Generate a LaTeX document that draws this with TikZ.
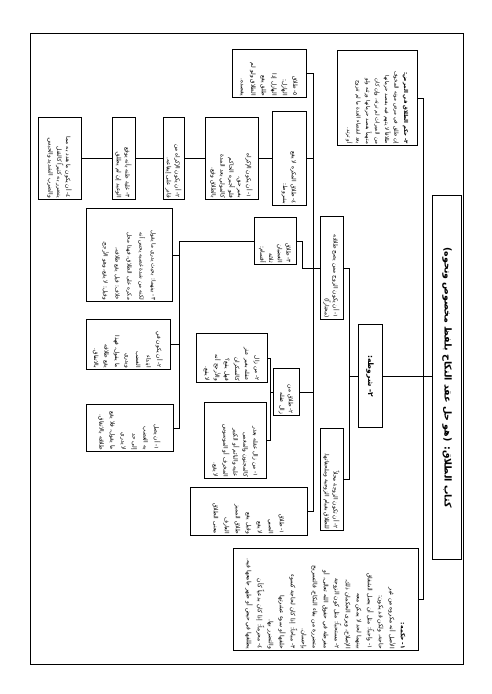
\documentclass[tikz,border=0pt]{standalone}
\usepackage{fontspec}
\newfontfamily\arabicfont[Script=Arabic]{DejaVu Sans}
\TeXXeTstate=1
\newcommand{\ar}[1]{\beginR #1\endR}
\tikzset{
  box/.style={draw,line width=0.9pt,rotate=-90,inner sep=1.5pt,align=right,
    font=\arabicfont\fontsize{5.8}{8.8}\selectfont},
  sz/.style 2 args={text width=#1pt,minimum height=#2pt},
  link/.style={line width=0.9pt}}

\begin{document}
\begin{tikzpicture}[x=1pt,y=-1pt]
\useasboundingbox (0,0) rectangle (491,694);
\draw[line width=1pt] (30,33) rectangle (463,664);

% bus lines
\coordinate (b1) at (423,0);
\coordinate (b2) at (349,0);
\coordinate (b3) at (313,0);
\coordinate (jog) at (302,0);
\coordinate (b4) at (179,0);
\coordinate (b5) at (270,0);

\node[box,sz={361}{29},align=center,font=\arabicfont\bfseries\fontsize{9.5}{11}\selectfont] (title) at (447,377.5)
  {\ar{كتاب الطلاق: (هو حل عقد النكاح بلفظ مخصوص ونحوه)}};

\node[box,sz={92}{80},font=\arabicfont\fontsize{5.4}{9.5}\selectfont] (hukm3) at (377,98)
  {\textbf{\ar{٣- حكم الطلاق في المرض:}}\\
   \ar{إن طلق في مرض موته المخوف}\\
   \ar{طلاقاً لا يتهم فيه بقصد حرمانها}\\
   \ar{من الميراث لم ترثه، وإن كان}\\
   \ar{متهماً بقصد حرمانها ورثته ولو}\\
   \ar{بعد انقضاء العدة ما لم تتزوج}\\
   \ar{أو ترتد.}};
\node[box,sz={100}{24},align=center,font=\arabicfont\bfseries\fontsize{7.5}{9}\selectfont] (shurut) at (370,376)
  {\ar{٢- شروطه:}};
\node[box,sz={99}{185},font=\arabicfont\fontsize{6}{11}\selectfont] (hukm1) at (325.5,599.5)
  {\textbf{\ar{١- حكمه:}}\\
   \ar{الأصل أنه مكروه من غير}\\
   \ar{حاجة، ولكن قد يكون:}\\
   \ar{١- واجباً: مثل أن يصل الشقاق}\\
   \ar{بينهما لحد لا يمكن معه}\\
   \ar{الإصلاح، ويرى الحكمان ذلك.}\\
   \ar{٢- مستحباً: مثل كون الزوجة}\\
   \ar{مفرطة في حقوق الله تعالى، أو}\\
   \ar{متضررة من بقاء النكاح، فالتسريح}\\
   \ar{بإحسان.}\\
   \ar{٣- مباحاً: إذا كان لحاجة كسوء}\\
   \ar{خلقها أو سوء عشرتها}\\
   \ar{والتضرر بها.}\\
   \ar{٤- محرماً: إذا كان بدعياً كأن}\\
   \ar{يطلقها في حيض أو طهر جامعها فيه.}};

\node[box,sz={100}{23}] (cond1) at (331.5,268)
  {\ar{١- أن يكون الزوج ممن يصح طلاقه}\\
   \ar{(مختاراً)}};
\node[box,sz={99}{23}] (cond2) at (331.5,479.5)
  {\ar{٢- أن تكون الزوجة محلاً}\\
   \ar{للطلاق بقيام الزوجية وملحقاتها.}};

\node[box,sz={45}{74},font=\arabicfont\fontsize{5.8}{10.5}\selectfont] (t5) at (269,73.5)
  {\ar{٥- طلاق}\\ \ar{الهازل:}\\ \ar{الهازل إذا}\\ \ar{طلق يقع}\\
   \ar{الطلاق ولو لم}\\ \ar{يقصده.}};
\node[box,sz={91}{34}] (t4) at (289,158.5)
  {\ar{٤- طلاق المكره لا يقع}\\ \ar{بشروط:}};
\node[box,sz={44}{42}] (t3) at (275,241)
  {\ar{٣- طلاق}\\ \ar{الغضبان}\\ \ar{ثلاثة}\\ \ar{أقسام:}};
\node[box,sz={44}{26}] (t2) at (286,392)
  {\ar{٢- طلاق من}\\ \ar{زال عقله}};
\node[box,sz={45}{117},font=\arabicfont\fontsize{5.8}{11}\selectfont] (t1) at (248.5,511.5)
  {\ar{١- طلاق}\\ \ar{الصبي}\\ \ar{لا يقع}\\ \ar{وقيل يقع}\\
   \ar{طلاق المميز}\\ \ar{العارف}\\ \ar{معنى الطلاق}};

\node[box,sz={79}{53}] (k1) at (231.5,158.5)
  {\ar{١- أن يكون الإكراه}\\ \ar{بغير حق،}\\ \ar{فلو أجبره الحاكم}\\
   \ar{كالمولي بعد المدة}\\ \ar{بالطلاق وقع.}};
\node[box,sz={79}{21}] (k2) at (173.5,158.5)
  {\ar{٢- أن يكون الإكراه من}\\ \ar{قادر على إيقاعه.}};
\node[box,sz={79}{23}] (k3) at (123.5,158.5)
  {\ar{٣- غلبة ظنه بأنه يوقع}\\ \ar{الوعيد إن لم يطلق.}};
\node[box,sz={79}{43}] (k4) at (59.5,158.5)
  {\ar{٤- أن يكون ما هدد به مما}\\ \ar{يتضرر به كثيراً كالقتل}\\
   \ar{والضرب الشديد والحبس.}};

\node[box,sz={90}{86},font=\arabicfont\fontsize{5.6}{12}\selectfont] (g3) at (129,255)
  {\ar{٣- بينهما: بحيث يدري ما يقول}\\ \ar{لكنه من شدة غضبه يحس أنه}\\
   \ar{مكره على الطلاق، فهذا محل}\\ \ar{خلاف: قيل يقع طلاقه،}\\
   \ar{وقيل: لا يقع، وهو الأرجح.}};
\node[box,sz={47}{84},font=\arabicfont\fontsize{5.8}{10.5}\selectfont] (g2) at (128,344.5)
  {\ar{٢- أن يكون في}\\ \ar{ابتداء}\\ \ar{الغضب}\\ \ar{ويدري}\\
   \ar{ما يقول، فهذا}\\ \ar{يقع طلاقه}\\ \ar{بالاتفاق.}};
\node[box,sz={44}{87},font=\arabicfont\fontsize{5.8}{11}\selectfont] (g1) at (129.5,428)
  {\ar{١- أن يصل}\\ \ar{به الغضب}\\ \ar{إلى حد}\\ \ar{لا يدري}\\
   \ar{ما يقول، فلا يقع}\\ \ar{طلاقه بالاتفاق.}};

\node[box,sz={46}{71},font=\arabicfont\fontsize{5.8}{10}\selectfont] (z2) at (231.5,358)
  {\ar{٢- من زال}\\ \ar{عقله بغير عذر}\\ \ar{كالسكران}\\ \ar{فهل يقع؟}\\
   \ar{والأرجح أنه}\\ \ar{لا يقع.}};
\node[box,sz={73}{62},font=\arabicfont\fontsize{5.8}{10}\selectfont] (z1) at (235,440.5)
  {\ar{١- من زال عقله بعذر}\\ \ar{كالمجنون والمغمى}\\
   \ar{عليه والنائم أو الكبير}\\ \ar{المخرف أو الموسوس}\\ \ar{لا يقع.}};

% connectors
\draw[link] (shurut.north) -- (shurut.north -| title.south);
\draw[link] (hukm3.north) -- (hukm3.north -| b1) -- (hukm1.north -| b1) -- (hukm1.north);
\draw[link] (cond1.north) -- (cond1.north -| b2) -- (cond2.north -| b2) -- (cond2.north);
\draw[link] (shurut.south) -- (shurut.south -| b2);
\draw[link] (t5.north) -- (t5.north -| b3) -- (t1.north -| b3) -- (t1.north);
\draw[link] (t4.north) -- (t4.north -| b3);
\draw[link] (t2.north) -- (t2.north -| b3);
\draw[link] (cond1.south) -- (cond1.south -| jog);
\draw[link] (t3.north) -| (cond1.south -| jog);
\draw[link] (t4.south) -- (k1.north);
\draw[link] (k1.south) -- (k2.north);
\draw[link] (k2.south) -- (k3.north);
\draw[link] (k3.south) -- (k4.north);
\draw[link] (t3.south) -| (g1.north -| b4) -- (g1.north);
\draw[link] (g3.north) -- (g3.north -| b4);
\draw[link] (g2.north) -- (g2.north -| b4);
\draw[link] (z2.north) -- (z2.north -| b5) -- (z1.north -| b5) -- (z1.north);
\draw[link] (t2.south) -- (t2.south -| b5);
\end{tikzpicture}
\end{document}
